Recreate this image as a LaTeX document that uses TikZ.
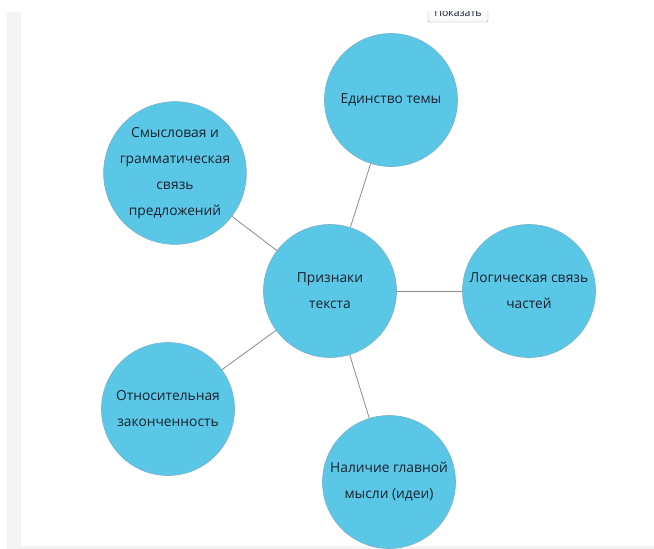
\documentclass[tikz,border=0pt]{standalone}
\usepackage{fontspec}
\setmainfont{Open Sans}
\usepackage{xcolor}
\usepackage{tikz}
\usetikzlibrary{shapes,positioning}

\definecolor{bubble}{RGB}{91,199,230}
\definecolor{bubbleline}{RGB}{120,178,200}
\definecolor{ink}{RGB}{22,34,46}
\definecolor{link}{RGB}{140,140,140}

\begin{document}
\begin{tikzpicture}[x=1pt,y=-1pt]
	\tikzstyle{topic}=[circle,draw=bubbleline,line width=0.6pt,fill=bubble,minimum size=133pt,inner sep=0pt,align=center,text=ink,font=\fontsize{13.8}{26}\selectfont]
	\tikzstyle{link line}=[draw=link,line width=0.8pt]
	\useasboundingbox (0,0) rectangle (654,549);
	\fill[white] (0,0) rectangle (654,549);
	\fill[gray!9] (7,12) rectangle (21,549);
	\fill[gray!9] (21,546) rectangle (654,549);
	\begin{scope}
		\clip (0,11) rectangle (654,549);
		\node[draw=gray!70,fill=gray!4,rounded corners=2pt,minimum width=60pt,minimum height=18pt,font=\fontsize{10.5}{11}\selectfont,text=ink](show)at(458,13){Показать};
	\end{scope}
	
	\node[topic](main)at(330,291){Признаки\\текста};
	\node[topic](unity)at(391,100){Единство темы};
	\node[topic](bond)at(175,173){Смысловая и\\грамматическая\\связь\\предложений};
	\node[topic](logic)at(529,291){Логическая связь\\частей};
	\node[topic](whole)at(168,409){Относительная\\законченность};
	\node[topic](idea)at(389,482){Наличие главной\\мысли (идеи)};
	
	\path (main) edge[link line] (unity);
	\path (main) edge[link line] (bond);
	\path (main) edge[link line] (logic);
	\path (main) edge[link line] (whole);
	\path (main) edge[link line] (idea);
\end{tikzpicture}
\end{document}
